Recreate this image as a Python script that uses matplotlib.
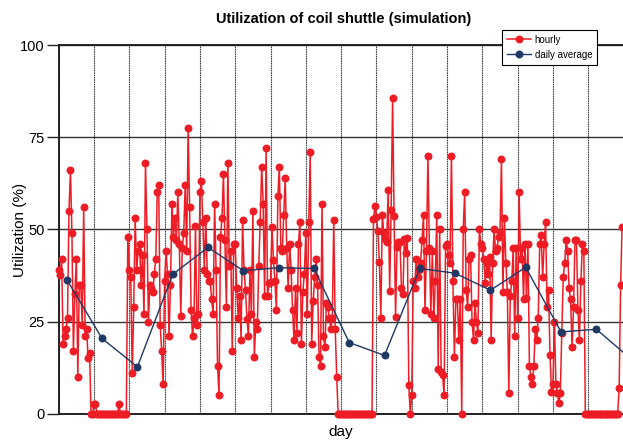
import matplotlib
matplotlib.use("Agg")
import matplotlib.pyplot as plt
import numpy as np

plt.rcParams['font.family'] = ['Liberation Sans', 'DejaVu Sans']

# hourly utilization (%), one list per simulated day, 24 values each
day00 = [39, 37.6, 42, 19, 21, 23, 26, 55, 66, 49, 17, 32.5, 42, 10, 35, 35, 24, 56, 21, 23, 15, 16.5, 0, 0]
day01 = [2.5, 2.5, 0, 0, 0, 0, 0, 0, 0, 0, 0, 0, 0, 0, 0, 0, 0, 2.5, 0, 0, 0, 0, 0, 48]
day02 = [39, 37, 11, 29, 53, 39, 44, 46, 35, 43, 27, 68, 50, 25, 35, 34, 33, 38, 42, 60, 62, 24, 17, 8]
day03 = [36, 44, 38, 21, 35, 57, 48, 53, 47, 60, 46, 26.5, 45, 49, 62, 44, 77.6, 56, 28, 21, 26, 51, 24, 27]
day04 = [60, 63, 52, 39, 53, 38, 36, 36, 31, 27, 57, 39, 13, 5, 48, 53, 65, 47, 29, 68, 40, 44, 17, 46]
day05 = [46, 34, 26, 32, 20, 52.5, 39, 33.5, 25.6, 21, 39, 27, 55, 15.5, 25, 23, 40, 52, 67, 57, 32, 72, 32, 35.5]
day06 = [35.6, 50.7, 41.7, 36, 28, 59, 67, 45, 44, 54, 64, 45, 34, 46, 39, 28, 20, 34, 22, 46, 52, 19, 33, 38]
day07 = [49, 27, 52, 71, 19, 30.5, 37, 42, 35, 15.5, 13, 57, 21, 18, 30, 29, 26, 23, 26, 52.5, 23, 10, 0, 0]
day08 = [0, 0, 0, 0, 0, 0, 0, 0, 0, 0, 0, 0, 0, 0, 0, 0, 0, 0, 0, 0, 0, 0, 52.8, 56.4]
day09 = [53.4, 49.6, 41.2, 25.9, 53.9, 49, 47.3, 46.7, 60.7, 33.4, 55.2, 85.5, 53.7, 26.3, 45.3, 46.7, 46.7, 34, 32.6, 47.3, 43.5, 47.6, 7.8, 0]
day10 = [5, 36, 34, 42, 37, 39, 41, 47, 54, 28, 44, 70, 45, 27, 44, 26, 36, 54, 12, 50, 11.4, 10.5, 5, 45.5]
day11 = [46, 43, 41, 70, 36, 15.5, 31, 31, 20, 31, 0, 50, 60, 33.5, 29, 42, 43, 25, 20, 30, 25, 22, 50, 46]
day12 = [45, 42, 35.5, 41, 38, 42.6, 20, 41, 50, 44, 45, 48, 49, 69, 33, 53, 41, 33, 5.5, 32, 36, 45, 21, 45]
day13 = [26, 60, 42, 45, 31, 46, 31.5, 46, 13, 10, 8, 13, 23, 20, 26, 46, 48.5, 37, 46, 52, 29, 33.5, 16, 6]
day14 = [8, 25, 8, 5.5, 2.8, 5.5, 22, 37, 41, 47, 44, 34, 31, 18, 29, 47, 47, 28, 20, 36, 46, 44, 0, 0]
day15 = [0, 0, 0, 0, 0, 0, 0, 0, 0, 0, 0, 0, 0, 0, 0, 0, 0, 0, 0, 0, 0, 7, 35, 50.7]

hourly = (day00 + day01 + day02 + day03 + day04 + day05 + day06 + day07
          + day08 + day09 + day10 + day11 + day12 + day13 + day14 + day15)
hours = np.arange(len(hourly))

# daily averages (%), one per day
avg_day = np.arange(17)
daily_avg = [36.4, 20.4, 12.7, 37.8, 45.1, 38.8, 39.6, 39.4, 19.3, 15.8,
             39.4, 38.1, 33.5, 39.7, 22.2, 22.9, 14.7]

fig = plt.figure(figsize=(6.23, 4.41), dpi=100)
ax = fig.add_axes([0.0942, 0.0619, 0.9067, 0.836])

ax.plot(hours, hourly, color='#ee1c25', lw=1.1, marker='o', ms=4.7,
        clip_on=False, zorder=3, label='hourly')
ax.plot(avg_day * 24 + 5.5, daily_avg, color='#1f3864', lw=1.0, marker='o',
        ms=4.7, zorder=4, label='daily average')

ax.set_xlim(0, 384)
ax.set_ylim(0, 100)
ax.set_yticks([0, 25, 50, 75, 100])
ax.set_xticks(np.arange(0, 385, 24))
ax.set_xticklabels([])
ax.tick_params(axis='x', length=0)
ax.tick_params(axis='y', length=9, width=1, pad=1, labelsize=10.5, color='#222222')
ax.grid(axis='y', color='#333333', lw=1.0)
ax.grid(axis='x', color='#444444', lw=0.8, ls=(0, (1.5, 0.6)))
ax.set_axisbelow(True)
for s in ax.spines.values():
    s.set_color('#222222')
    s.set_linewidth(1.4)

fig.text(344 / 623, 1 - 19 / 441, 'Utilization of coil shuttle (simulation)',
         ha='center', va='center', fontsize=10.5, fontweight='bold')
fig.text(20 / 623, 1 - 230 / 441, 'Utilization (%)', rotation=90,
         ha='center', va='center', fontsize=11)
fig.text(341 / 623, 1 - 432 / 441, 'day', ha='center', va='center', fontsize=11)

leg = fig.legend(loc='upper left', bbox_to_anchor=(501.7 / 623, 1 - 30 / 441),
                 fontsize=7, fancybox=False, edgecolor='black', framealpha=1,
                 handlelength=2.5, handletextpad=0.4, borderpad=0.5,
                 labelspacing=0.5, borderaxespad=0)
leg.get_frame().set_linewidth(0.8)

fig.savefig('out.png', dpi=100)
